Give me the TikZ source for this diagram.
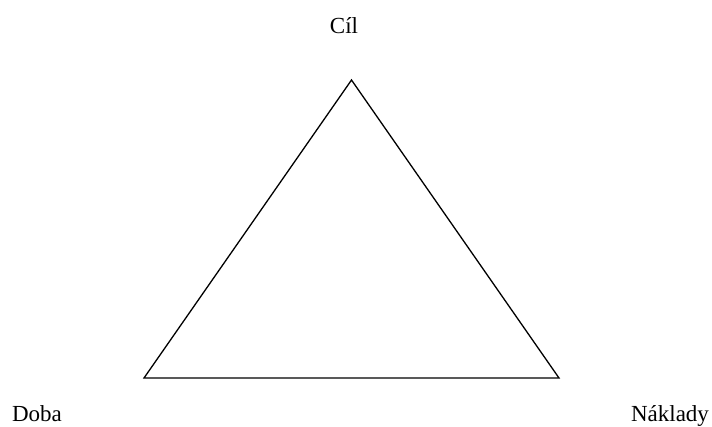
\documentclass[tikz,border=0pt]{standalone}
\usepackage{fontspec}
\setmainfont{Liberation Serif}
\begin{document}
\begin{tikzpicture}[x=1pt,y=-1pt,
  lbl/.style={font=\fontsize{23}{27}\selectfont, anchor=base, inner sep=0pt},
  edge/.style={draw=black, line width=1.3pt, line join=miter}]
\useasboundingbox (0,0) rectangle (712,426);
\coordinate (top) at (351.5,80);
\coordinate (bl) at (144,378);
\coordinate (br) at (559,378);
\draw[edge] (top) -- (bl) -- (br) -- cycle;
\node[lbl] (cil) at (344,33) {Cíl};
\node[lbl] (doba) at (37,421) {Doba};
\node[lbl] (naklady) at (670,421) {Náklady};
\end{tikzpicture}
\end{document}
